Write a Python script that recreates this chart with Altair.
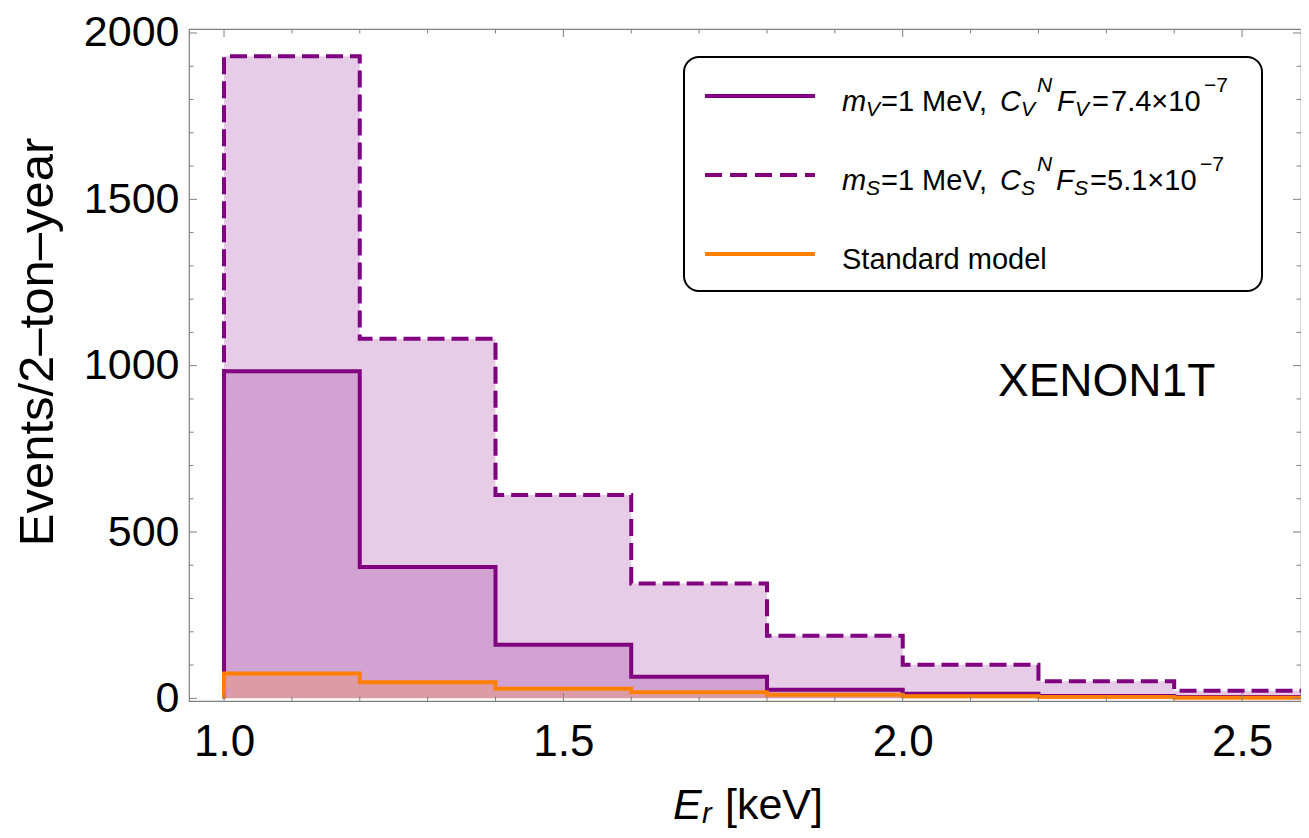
import altair as alt
import pandas as pd

# ---------------- data ----------------
edges = [1.0, 1.2, 1.4, 1.6, 1.8, 2.0, 2.2, 2.4, 2.6]
vector_counts = [983, 395, 161, 65, 26, 14, 7, 4]      # m_V = 1 MeV
scalar_counts = [1930, 1081, 611, 345, 188, 101, 51, 23]  # m_S = 1 MeV
sm_counts = [75, 48, 29, 18, 11, 6, 4, 2]              # Standard model
x_label_values = [1.0, 1.5, 2.0, 2.5]
y_label_values = [0, 500, 1000, 1500, 2000]
x_minor = [1.1, 1.2, 1.3, 1.4, 1.6, 1.7, 1.8, 1.9, 2.1, 2.2, 2.3, 2.4, 2.6]
y_minor = [v for v in range(0, 2001, 100) if v % 500 != 0]

# ---------------- layout ----------------
FONT = "Liberation Sans"
W, H = 1112, 672
PAD_TOP = 21
PX0, PY0 = 189, 8 + PAD_TOP   # absolute page position of plot's top-left
PX_PER_UNIT = 678.7
XMIN = 0.9484
xs = alt.Scale(domain=[XMIN, XMIN + W / PX_PER_UNIT], nice=False, zero=False)
ys = alt.Scale(domain=[-8, 2012], nice=False, zero=False)

PURPLE = "#800080"
ORANGE = "#FF8000"
GREY = "#808080"

xaxis = alt.Axis(values=x_label_values, format=".1f", labelFontSize=44, labelFont=FONT,
                 labelColor="black", labelPadding=19, domain=False, ticks=False,
                 grid=False, title=None, labelFlush=False, labelOverlap=False)
yaxis = alt.Axis(values=y_label_values, format="d", labelFontSize=43, labelFont=FONT,
                 labelColor="black", labelPadding=10, domain=False, ticks=False,
                 grid=False, title=None, labelOverlap=False)


def X(field="x:Q"):
    return alt.X(field, scale=xs, axis=xaxis)


def Y(field="y:Q"):
    return alt.Y(field, scale=ys, axis=yaxis)


def area_df(vals):
    return pd.DataFrame({"x": edges, "y": vals + [vals[-1]], "b": [0] * len(edges)})


def line_df(vals):
    return pd.DataFrame({"i": list(range(len(edges) + 1)),
                         "x": [edges[0]] + edges,
                         "y": [0] + vals + [vals[-1]]})


def fill_layer(vals, color):
    return alt.Chart(area_df(vals)).mark_area(
        interpolate="step-after", color=color, opacity=0.2, clip=True
    ).encode(x=X(), y=Y(), y2=alt.Y2("b:Q"))


def line_layer(vals, color, dash=None):
    kw = dict(interpolate="step-after", color=color, strokeWidth=4, clip=True)
    if dash:
        kw["strokeDash"] = dash
    return alt.Chart(line_df(vals)).mark_line(**kw).encode(
        x=X(), y=Y(), order=alt.Order("i:Q"))


one = pd.DataFrame({"k": [0]})


def txt(t, xa, ya, size, italic=False, align="left", angle=0):
    return alt.Chart(one).mark_text(
        text=t, fontSize=size, font=FONT, fontStyle="italic" if italic else "normal",
        align=align, baseline="alphabetic", angle=angle, color="black"
    ).encode(x=alt.value(xa - PX0), y=alt.value(ya - PY0))


# ---------------- frame ticks (inward) ----------------
def yticks(vals, length):
    d = pd.DataFrame({"v": vals})
    left = alt.Chart(d).mark_rule(color=GREY, strokeWidth=1).encode(
        y=Y("v:Q"), x=alt.value(0), x2=alt.value(length))
    right = alt.Chart(d).mark_rule(color=GREY, strokeWidth=1).encode(
        y=Y("v:Q"), x=alt.value(W), x2=alt.value(W - length))
    return [left, right]


def xticks(vals, length):
    d = pd.DataFrame({"v": vals})
    bottom = alt.Chart(d).mark_rule(color=GREY, strokeWidth=1).encode(
        x=X("v:Q"), y=alt.value(H), y2=alt.value(H - length))
    top = alt.Chart(d).mark_rule(color=GREY, strokeWidth=1).encode(
        x=X("v:Q"), y=alt.value(0), y2=alt.value(length))
    return [bottom, top]


layers = [
    fill_layer(scalar_counts, PURPLE),
    fill_layer(vector_counts, PURPLE),
    fill_layer(sm_counts, ORANGE),
    line_layer(scalar_counts, PURPLE, [17, 7]),
    line_layer(vector_counts, PURPLE),
    line_layer(sm_counts, ORANGE),
]
layers += yticks(y_label_values, 8) + yticks(y_minor, 4.5)
layers += xticks(x_label_values, 8) + xticks(x_minor, 4.5)

# ---------------- annotations / titles ----------------
layers.append(txt("XENON1T", 998, 396, 46))
layers.append(txt("Events/2\u2013ton\u2013year", 53, 342, 49, align="center", angle=270))
layers.append(txt("E", 673, 819, 43, italic=True))
layers.append(txt("r", 702, 823, 29, italic=True))
layers.append(txt("[keV]", 725, 819, 43))

# ---------------- legend ----------------
layers.append(alt.Chart(one).mark_rect(
    fill="white", stroke="black", strokeWidth=2, cornerRadius=15
).encode(x=alt.value(684 - PX0), x2=alt.value(1262 - PX0),
         y=alt.value(57 - PY0), y2=alt.value(291 - PY0)))

line_rows = [(96, PURPLE, None), (175, PURPLE, [17, 8]), (254, ORANGE, None)]
for ly, col, dash in line_rows:
    kw = dict(color=col, strokeWidth=4)
    if dash:
        kw["strokeDash"] = dash
    layers.append(alt.Chart(one).mark_rule(**kw).encode(
        x=alt.value(705 - PX0), x2=alt.value(815 - PX0), y=alt.value(ly - PY0)))

MAIN, SMALL = 29, 21
# (text, x, kind, italic) ; kind: m main, b sub, p sup
row1 = [("m", 842, "m", True), ("V", 866, "b", True), ("=1 MeV,", 881, "m", False),
        ("C", 1000, "m", True), ("V", 1021, "b", True), ("N", 1037, "p", True),
        ("F", 1057, "m", True), ("V", 1075, "b", True), ("=", 1092, "m", False),
        ("7.4\u00d710", 1111, "m", False), ("\u22127", 1204, "p", False)]
row2 = [("m", 842, "m", True), ("S", 866, "b", True), ("=1 MeV,", 881, "m", False),
        ("C", 1000, "m", True), ("S", 1021, "b", True), ("N", 1037, "p", True),
        ("F", 1056, "m", True), ("S", 1074, "b", True), ("=", 1090, "m", False),
        ("5.1\u00d710", 1107, "m", False), ("\u22127", 1200, "p", False)]
for segs, base in [(row1, 110.5), (row2, 189.5)]:
    for t, xa, kind, it in segs:
        if kind == "m":
            layers.append(txt(t, xa, base, MAIN, italic=it))
        elif kind == "b":
            layers.append(txt(t, xa, base + 5, SMALL, italic=it))
        else:
            layers.append(txt(t, xa, base - 19, SMALL, italic=it))
layers.append(txt("Standard model", 842, 268.5, MAIN))

chart = alt.layer(*layers).properties(
    width=W, height=H,
    autosize=alt.AutoSizeParams(type="none"),
    padding={"left": 181, "top": PAD_TOP, "right": 0, "bottom": 129},
).configure_view(stroke=GREY, strokeWidth=1.2)

chart.save("out.html", embed_options={"renderer": "svg", "actions": False})
